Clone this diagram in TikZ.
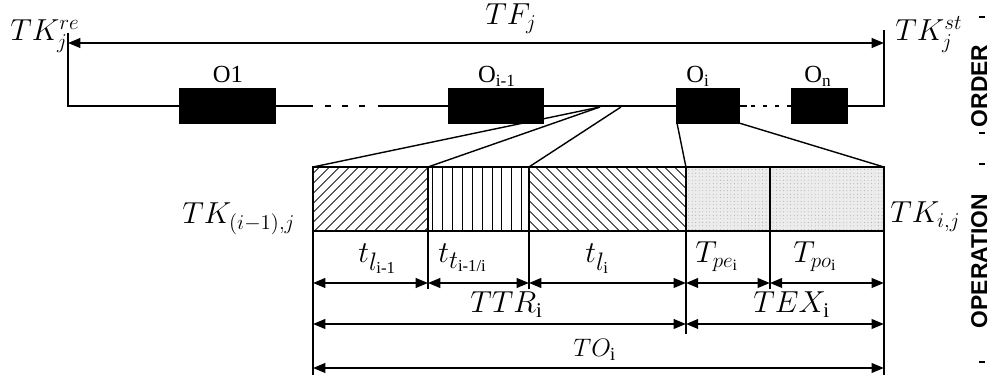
\documentclass[tikz,border=0pt]{standalone}
\definecolor{dotgray}{RGB}{236,236,236}
\usepackage{amsmath}
\usepackage{fontspec}
\setmainfont{Liberation Serif}
\setsansfont{Liberation Sans}
\usepackage{tikz}
\usetikzlibrary{arrows.meta,patterns.meta,calc}

\tikzset{
  opbox/.style={draw, fill=black, line width=0.6pt, minimum height=0.68cm, inner sep=0pt, outer sep=0pt},
  cellbox/.style={draw, line width=1.2pt, minimum height=1.28cm, inner sep=0pt, outer sep=0pt, anchor=north west},
  dimarrow/.style={line width=1.1pt, {Triangle[length=7pt,width=5.5pt]}-{Triangle[length=7pt,width=5.5pt]}},
  orderline/.style={line width=1.1pt},
  fanline/.style={line width=0.8pt},
  vline/.style={line width=1.1pt},
  mlbl/.style={anchor=base west, inner sep=0pt, font=\fontsize{17}{20}\selectfont},
  tlbl/.style={mlbl, font=\fontsize{19}{22}\selectfont},
  olbl/.style={anchor=base, inner sep=0pt, font=\fontsize{14}{16}\selectfont},
  sidetag/.style={rotate=90, anchor=base, inner sep=0pt, font=\sffamily\bfseries\fontsize{13}{15}\selectfont},
}

\begin{document}
\begin{tikzpicture}[x=0.02cm, y=-0.02cm]
  \useasboundingbox (0,0) rectangle (992,377);

  % order level
  \node[opbox, minimum width=1.9cm] (o1) at (227.5,106) {};
  \node[opbox, minimum width=1.88cm] (oim) at (496,106) {};
  \node[opbox, minimum width=1.24cm] (oi) at (708,106) {};
  \node[opbox, minimum width=1.1cm] (on) at (819.5,106) {};

  \node[olbl] (lo1) at (228,83) {O1};
  \node[olbl] (lom) at (497,83) {O\textsubscript{i-1}};
  \node[olbl] (loi) at (698,83) {O\textsubscript{i}};
  \node[olbl] (lon) at (818,83) {O\textsubscript{n}};

  \coordinate (reTop) at (68,33);
  \coordinate (reBot) at (68,106);
  \coordinate (stTop) at (884,30);
  \coordinate (stBot) at (884,106);
  \coordinate (tfrow) at (0,43);
  \coordinate (gap1a) at (313,106);
  \coordinate (gap1b) at (378,106);

  \draw[orderline] (reTop) -- (reBot) -- (o1.west);
  \draw[orderline] (o1.east) -- (gap1a);
  \draw[line width=1.6pt, dash pattern=on 0pt off 6.8pt on 3.4pt off 6.2pt on 3.4pt off 6.2pt on 3.4pt off 30pt] (gap1a) -- (gap1b);
  \draw[orderline] (gap1b) -- (oim.west);
  \draw[orderline] (oim.east) -- (oi.west);
  \draw[line width=1.6pt, dash pattern=on 4.5pt off 2.3pt on 2.3pt off 4.5pt on 2.3pt off 4.5pt on 2.3pt off 4.5pt on 10pt] (oi.east) -- (on.west);
  \draw[orderline] (on.east) -- (stBot) -- (stTop);
  \draw[dimarrow] (reTop |- tfrow) -- (stTop |- tfrow);

  \node[mlbl] (lre) at (10,41) {$TK_j^{re}$};
  \node[mlbl] (lst) at (895,41) {$TK_j^{st}$};
  \node[mlbl] (ltf) at (485,25) {$TF_j$};

  % operation level
  \node[cellbox, minimum width=2.3cm, pattern={Lines[angle=45,distance=4pt,line width=0.5pt]}] (c1) at (313,167) {};
  \node[cellbox, minimum width=2.02cm, pattern={Lines[angle=90,distance=5.6pt,line width=0.5pt]}] (c2) at (c1.north east) {};
  \node[cellbox, minimum width=3.14cm, pattern={Lines[angle=-45,distance=4pt,line width=0.5pt]}] (c3) at (c2.north east) {};
  \node[cellbox, minimum width=1.68cm, preaction={fill=dotgray}, pattern={Dots[distance=2pt,radius=0.25pt]}, pattern color=gray!80] (c4) at (c3.north east) {};
  \node[cellbox, minimum width=2.28cm, preaction={fill=dotgray}, pattern={Dots[distance=2pt,radius=0.25pt]}, pattern color=gray!80] (c5) at (c4.north east) {};

  \coordinate (f1) at (600,107);
  \coordinate (f2) at (621,107);
  \draw[fanline] (c1.north west) -- (f1);
  \draw[fanline] (c2.north west) -- (f1);
  \draw[fanline] (c3.north west) -- (f2);
  \draw[fanline] (c4.north west) -- (oi.south west);
  \draw[fanline] (c5.north east) -- (oi.south east);

  \node[mlbl] (lkim) at (182,224) {$TK_{(i-1),j}$};
  \node[mlbl] (lki) at (890,223) {$TK_{i,j}$};

  % time spans
  \coordinate (r1) at (0,283);
  \coordinate (r2) at (0,324);
  \coordinate (r3) at (0,368);
  \coordinate (e1) at (0,289);
  \coordinate (e2) at (0,334);
  \coordinate (e3) at (0,375);

  \draw[vline] (c1.south west) -- (c1.south west |- e3);
  \draw[vline] (c2.south west) -- (c2.south west |- e1);
  \draw[vline] (c3.south west) -- (c3.south west |- e1);
  \draw[vline] (c4.south west) -- (c4.south west |- e2);
  \draw[vline] (c5.south west) -- (c5.south west |- e1);
  \draw[vline] (c5.south east) -- (c5.south east |- e3);

  \foreach \n in {c1,c2,c3,c4,c5}
    \draw[dimarrow] (\n.south west |- r1) -- (\n.south east |- r1);
  \draw[dimarrow] (c1.south west |- r2) -- (c3.south east |- r2);
  \draw[dimarrow] (c4.south west |- r2) -- (c5.south east |- r2);
  \draw[dimarrow] (c1.south west |- r3) -- (c5.south east |- r3);

  \node[tlbl] (ltl1) at (358,263) {$t_{l_{\text{i-1}}}$};
  \node[tlbl] (ltt) at (438,263) {$t_{t_{\text{i-1/i}}}$};
  \node[tlbl] (ltl) at (585,263) {$t_{l_{\text{i}}}$};
  \node[mlbl, font=\fontsize{18}{21}\selectfont] (lpe) at (695,263) {$T_{pe_{\text{i}}}$};
  \node[mlbl, font=\fontsize{18}{21}\selectfont] (lpo) at (793,263) {$T_{po_{\text{i}}}$};
  \node[mlbl] (lttr) at (470,313) {$TTR_{\text{i}}$};
  \node[mlbl] (ltex) at (753,313) {$TEX_{\text{i}}$};
  \node[mlbl, font=\fontsize{15}{18}\selectfont] (lto) at (573,357) {$TO_{\text{i}}$};

  % side tags
  \node[sidetag] (order) at (987,86) {ORDER};
  \node[sidetag] (oper) at (987,261) {OPERATION};
  \foreach \y in {17,133,164,362}
    \draw[line width=1.2pt] (979,\y) -- (985,\y);
\end{tikzpicture}
\end{document}
